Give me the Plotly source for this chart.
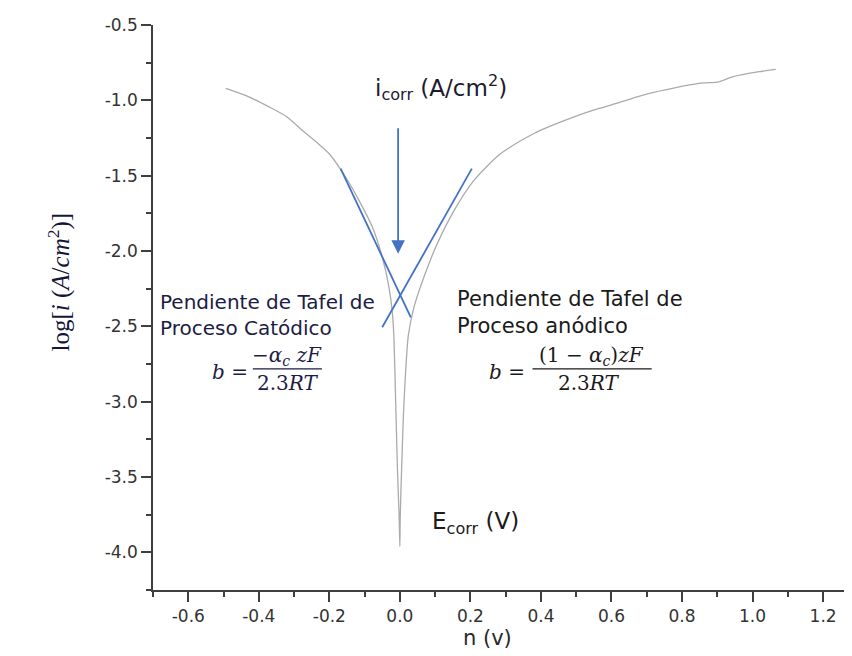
import plotly.graph_objects as go

# ---- data ----
curve_x = [-0.494, -0.43, -0.371, -0.32, -0.277, -0.235, -0.201, -0.154, -0.116, -0.078,
           -0.050, -0.031, -0.021, -0.017, -0.012, -0.007, -0.002, 0.0,
           0.001, 0.005, 0.012, 0.024, 0.040, 0.068, 0.106, 0.154, 0.210, 0.286,
           0.380, 0.494, 0.565, 0.598, 0.707, 0.848, 0.905, 0.943, 1.019, 1.066]
curve_y = [-0.921, -0.975, -1.043, -1.11, -1.198, -1.28, -1.353, -1.509, -1.664, -1.841,
           -2.04, -2.24, -2.42, -2.57, -2.99, -3.44, -3.77, -3.96,
           -3.77, -3.44, -2.99, -2.56, -2.373, -2.174, -1.951, -1.730, -1.531, -1.353,
           -1.220, -1.110, -1.054, -1.032, -0.954, -0.888, -0.877, -0.844, -0.810, -0.795]

cathodic_x = [-0.168, 0.031]
cathodic_y = [-1.453, -2.44]
anodic_x = [0.204, -0.050]
anodic_y = [-1.453, -2.506]

arrow_x = -0.005
arrow_y_start = -1.176
arrow_y_end = -2.018

x_tick_vals = [-0.6, -0.4, -0.2, 0.0, 0.2, 0.4, 0.6, 0.8, 1.0, 1.2]
x_tick_text = ["-0.6", "-0.4", "-0.2", "0.0", "0.2", "0.4", "0.6", "0.8", "1.0", "1.2"]
y_tick_vals = [-4.0, -3.5, -3.0, -2.5, -2.0, -1.5, -1.0, -0.5]
y_tick_text = ["-4.0", "-3.5", "-3.0", "-2.5", "-2.0", "-1.5", "-1.0", "-0.5"]

GRAY = "#ababab"
BLUE = "#4472c4"
AX = "#3f3f3f"
SANS = "DejaVu Sans"
SERIF = "DejaVu Serif"
LEFT_C = "#1c1c44"
RIGHT_C = "#1a1a1a"

fig = go.Figure()
fig.add_trace(go.Scatter(x=curve_x, y=curve_y, mode="lines",
                         line=dict(color=GRAY, width=1.3, shape="spline", smoothing=0.7),
                         hoverinfo="skip"))
fig.add_trace(go.Scatter(x=cathodic_x, y=cathodic_y, mode="lines",
                         line=dict(color=BLUE, width=1.8), hoverinfo="skip"))
fig.add_trace(go.Scatter(x=anodic_x, y=anodic_y, mode="lines",
                         line=dict(color=BLUE, width=1.8), hoverinfo="skip"))

ann = []
# arrow
ann.append(dict(x=arrow_x, y=arrow_y_end, ax=arrow_x, ay=arrow_y_start,
                xref="x", yref="y", axref="x", ayref="y", text="",
                showarrow=True, arrowhead=2, arrowsize=1.5, arrowwidth=1.8,
                arrowcolor=BLUE))
ann.append(dict(x=-0.077, y=-0.918, xref="x", yref="y", xanchor="left", yanchor="middle",
                text="i<sub>corr</sub> (A/cm<sup>2</sup>)", showarrow=False,
                font=dict(family=SANS, size=23, color="#1e1a2e")))
ann.append(dict(x=0.085, y=-3.805, xref="x", yref="y", xanchor="left", yanchor="middle",
                text="E<sub>corr</sub> (V)", showarrow=False,
                font=dict(family=SANS, size=23, color="#1e1a1e")))
ann.append(dict(x=-0.686, y=-2.425, xref="x", yref="y", xanchor="left", yanchor="middle",
                align="left", text="Pendiente de Tafel de<br>Proceso Catódico",
                showarrow=False, font=dict(family=SANS, size=20, color=LEFT_C)))
ann.append(dict(x=0.155, y=-2.408, xref="x", yref="y", xanchor="left", yanchor="middle",
                align="left", text="Pendiente de Tafel de<br>Proceso anódico",
                showarrow=False, font=dict(family=SANS, size=21, color=RIGHT_C)))
# left formula
ann.append(dict(x=-0.482, y=-2.80, xref="x", yref="y", text="<i>b</i> =", showarrow=False,
                font=dict(family=SERIF, size=20, color=LEFT_C)))
ann.append(dict(x=-0.320, y=-2.695, xref="x", yref="y", text="−<i>α<sub>c</sub> zF</i>",
                showarrow=False, font=dict(family=SERIF, size=20, color=LEFT_C)))
ann.append(dict(x=-0.316, y=-2.876, xref="x", yref="y", text="2.3<i>RT</i>",
                showarrow=False, font=dict(family=SERIF, size=20, color=LEFT_C)))
# right formula
ann.append(dict(x=0.303, y=-2.80, xref="x", yref="y", text="<i>b</i> =", showarrow=False,
                font=dict(family=SERIF, size=20, color=RIGHT_C)))
ann.append(dict(x=0.544, y=-2.695, xref="x", yref="y", text="(1 − <i>α<sub>c</sub></i>)<i>zF</i>",
                showarrow=False, font=dict(family=SERIF, size=20, color=RIGHT_C)))
ann.append(dict(x=0.535, y=-2.876, xref="x", yref="y", text="2.3<i>RT</i>",
                showarrow=False, font=dict(family=SERIF, size=20, color=RIGHT_C)))
# axis titles
ann.append(dict(x=(487 - 153) / 699, y=(590 - 638) / 565, xref="paper", yref="paper",
                text="n (v)", showarrow=False, yanchor="middle",
                font=dict(family=SANS, size=21, color="#2a2a2a")))
ann.append(dict(x=(40 - 153) / 699, y=(590 - 282) / 565, xref="paper", yref="paper",
                text="log[<i>i</i> (<i>A</i>/<i>cm</i><sup>2</sup>)]", textangle=-90,
                showarrow=False, font=dict(family="Liberation Serif", size=25, color="#15153a")))

shapes = [
    dict(type="line", xref="x", yref="y", x0=-0.417, x1=-0.221, y0=-2.783, y1=-2.783,
         line=dict(color=LEFT_C, width=1.3)),
    dict(type="line", xref="x", yref="y", x0=0.376, x1=0.714, y0=-2.783, y1=-2.783,
         line=dict(color=RIGHT_C, width=1.3)),
]

# page body has an 8px margin: figure is 844x648 so that the plot sits at the reference pixels
fig.update_layout(
    template="none",
    width=844, height=648,
    margin=dict(l=145, r=0, t=17, b=66, autoexpand=False),
    paper_bgcolor="white", plot_bgcolor="white",
    showlegend=False,
    annotations=ann, shapes=shapes,
    xaxis=dict(range=[-0.7, 1.282], showgrid=False, zeroline=False, automargin=False,
               showline=True, linecolor=AX, linewidth=1.6,
               tickmode="array", tickvals=x_tick_vals, ticktext=x_tick_text,
               ticks="outside", ticklen=10, tickwidth=1.5, tickcolor=AX,
               tickfont=dict(family=SANS, size=17, color="#333333"),
               minor=dict(tickmode="linear", tick0=-0.7, dtick=0.1, ticks="outside",
                          ticklen=5, tickwidth=1.5, tickcolor=AX)),
    yaxis=dict(range=[-4.25, -0.5], showgrid=False, zeroline=False, automargin=False,
               showline=True, linecolor=AX, linewidth=1.6,
               tickmode="array", tickvals=y_tick_vals, ticktext=y_tick_text,
               ticks="outside", ticklen=10, tickwidth=1.5, tickcolor=AX,
               tickfont=dict(family=SANS, size=17, color="#333333"),
               minor=dict(tickmode="linear", tick0=-0.5, dtick=0.25, ticks="outside",
                          ticklen=5, tickwidth=1.5, tickcolor=AX)),
)

fig.write_html("out.html")
